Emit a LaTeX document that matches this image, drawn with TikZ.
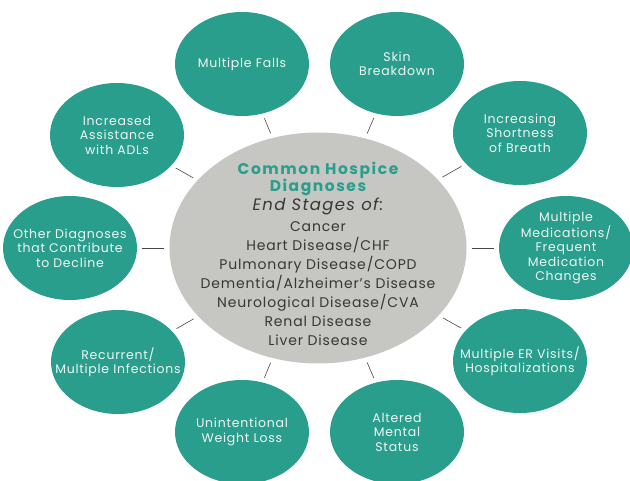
\documentclass[tikz,border=0pt]{standalone}
\usepackage{fontspec}
\setmainfont{Poppins}
\usetikzlibrary{shapes.geometric,positioning}
\definecolor{hospteal}{RGB}{42,158,140}
\definecolor{hubgray}{RGB}{198,199,194}
\definecolor{listgray}{RGB}{55,55,55}
\definecolor{linkgray}{RGB}{70,70,70}

\begin{document}
\begin{tikzpicture}[x=1pt,y=-1pt,
    sat/.style={ellipse,fill=hospteal,minimum width=134pt,minimum height=104pt,inner sep=0pt},
    sattext/.style={text=white!92!hospteal,align=center,inner sep=0pt,
      font=\fontsize{12.5}{14.5}\selectfont\addfontfeature{LetterSpace=6}},
    hub/.style={ellipse,fill=hubgray,minimum width=297pt,minimum height=231pt,inner sep=0pt},
    link/.style={draw=linkgray,line width=0.6pt,shorten >=5pt,shorten <=5pt}]
  \useasboundingbox (0,0) rectangle (630,481);
  % centre
  \node[hub] (hub) at (318,248) {};
  \node[text=hospteal,align=center,font=\bfseries\fontsize{15.5}{14}\selectfont\addfontfeature{LetterSpace=10}] (title) at (318,179) {Common Hospice\\Diagnoses};
  \node[text=listgray,font=\itshape\fontsize{16.5}{16}\selectfont\addfontfeature{LetterSpace=8}] (stages) at (318,206) {End Stages of:};
  \node[text=listgray,align=center,font=\fontsize{14}{18.9}\selectfont\addfontfeature{LetterSpace=6}] (list) at (318,283.5)
    {Cancer\\Heart Disease/CHF\\Pulmonary Disease/COPD\\Dementia/Alzheimer's Disease\\Neurological Disease/CVA\\Renal Disease\\Liver Disease};
  % ring
  \foreach \nm/\pos/\txt in {
      falls/{(242,64)}/{Multiple Falls},
      skin/{(397,64)}/{Skin\\Breakdown},
      breath/{(520,133)}/{Increasing\\Shortness\\of Breath},
      meds/{(566,248)}/{Multiple\\Medications/\\Frequent\\Medication\\Changes},
      visits/{(520,361)}/{Multiple ER Visits/\\Hospitalizations},
      mental/{(397,432)}/{Altered\\Mental\\Status},
      weight/{(242,432)}/{Unintentional\\Weight Loss},
      infect/{(118,362)}/{Recurrent/\\Multiple Infections},
      other/{(70,248)}/{Other Diagnoses\\that Contribute\\to Decline},
      adl/{(117,135)}/{Increased\\Assistance\\with ADLs}}
  {
    \node[sat] (\nm) at \pos {};
    \node[sattext] (\nm-text) at (\nm) {\txt};
    \path[link] (hub) edge (\nm);
  }
\end{tikzpicture}
\end{document}
